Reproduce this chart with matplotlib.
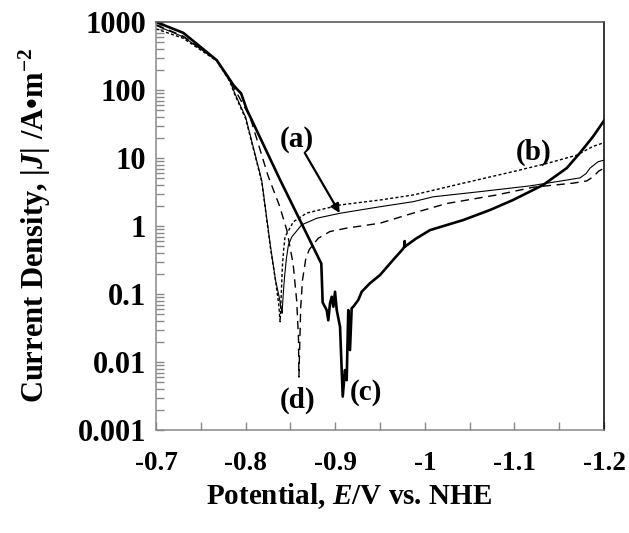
import numpy as np
import matplotlib
matplotlib.use("Agg")
import matplotlib.pyplot as plt
from matplotlib.ticker import FixedLocator, FuncFormatter, LogLocator, NullFormatter

plt.rcParams['font.family'] = ['Liberation Serif', 'DejaVu Serif']
plt.rcParams['font.weight'] = 'bold'
plt.rcParams['mathtext.fontset'] = 'custom'
plt.rcParams['mathtext.rm'] = 'Liberation Serif:bold'
plt.rcParams['mathtext.it'] = 'Liberation Serif:italic:bold'
plt.rcParams['mathtext.bf'] = 'Liberation Serif:bold'

# (a) thin solid
E_a = [-0.700, -0.7305, -0.7677, -0.7826, -0.788, -0.800, -0.818, -0.8278, -0.8334,
       -0.8375, -0.8407, -0.8410, -0.8420, -0.8435, -0.8455, -0.8477, -0.8515, -0.8626,
       -0.8794, -0.9054, -0.950, -0.9872, -1.0095, -1.0616, -1.1174, -1.1584, -1.1732,
       -1.1800, -1.1844, -1.1933, -1.200]
J_a = [891, 603, 275, 135, 89, 40, 4.7, 0.50, 0.16,
       0.09, 0.052, 0.06, 0.10, 0.18, 0.33, 0.52, 0.69, 1.04,
       1.30, 1.54, 1.92, 2.28, 2.69, 3.20, 3.89, 4.74, 5.1,
       5.9, 7.1, 8.8, 9.3]

# (b) dotted
E_b = [-0.700, -0.7305, -0.7677, -0.7826, -0.788, -0.800, -0.818, -0.8278, -0.834,
       -0.8370, -0.8385, -0.8395, -0.8410, -0.8425, -0.844, -0.8532, -0.8682, -0.9054,
       -0.950, -0.9872, -1.043, -1.0984, -1.136, -1.1695, -1.1877, -1.200]
J_b = [794, 575, 269, 132, 85, 38, 4.5, 0.47, 0.14,
       0.07, 0.039, 0.08, 0.25, 0.45, 0.69, 1.15, 1.55, 2.04,
       2.41, 2.86, 4.27, 6.3, 8.3, 11.0, 14.8, 16.8]

# (c) thick solid
E_c = [-0.700, -0.7305, -0.7677, -0.7826, -0.786, -0.7919, -0.795, -0.8012, -0.8384,
       -0.8845, -0.8860, -0.8905, -0.8923, -0.8942, -0.8961, -0.8979, -0.8998, -0.9017,
       -0.9054, -0.9084, -0.9109, -0.9128, -0.9146, -0.9165, -0.9184, -0.9202, -0.9258,
       -0.9296, -0.9388, -0.950, -0.9649, -0.975, -0.977, -0.9775, -0.978, -0.990,
       -1.0058, -1.0426, -1.0728, -1.0984, -1.1319, -1.1584, -1.1732, -1.1877, -1.200]
J_c = [1000, 692, 275, 141, 120, 98, 89, 52, 4.8,
       0.28, 0.075, 0.058, 0.041, 0.073, 0.091, 0.065, 0.108, 0.058,
       0.033, 0.0031, 0.0076, 0.0054, 0.058, 0.015, 0.062, 0.065, 0.082,
       0.108, 0.144, 0.19, 0.32, 0.45, 0.49, 0.60, 0.50, 0.65,
       0.87, 1.22, 1.72, 2.41, 4.0, 7.1, 11.9, 20.6, 35.3]

# (d) dashed
E_d = [-0.700, -0.7305, -0.7677, -0.7826, -0.790, -0.805, -0.825, -0.838, -0.846,
       -0.853, -0.857, -0.859, -0.8595, -0.8605, -0.8615, -0.8635, -0.867, -0.871,
       -0.8811, -0.8942, -0.9128, -0.950, -0.9872, -1.0244, -1.0802, -1.1211, -1.1657,
       -1.1807, -1.1880, -1.1940, -1.200]
J_d = [912, 617, 275, 141, 91, 40, 5.5, 1.95, 0.87,
       0.28, 0.08, 0.023, 0.006, 0.02, 0.063, 0.16, 0.32, 0.45,
       0.66, 0.83, 0.93, 1.10, 1.55, 2.14, 2.86, 3.72, 4.27,
       4.6, 5.3, 6.4, 7.1]

x_ticks = [-0.7, -0.8, -0.9, -1.0, -1.1, -1.2]
y_ticks = [0.001, 0.01, 0.1, 1, 10, 100, 1000]

fig = plt.figure(figsize=(6.29, 5.33), dpi=100)
ax = fig.add_axes([156 / 629, 1 - 430 / 533, 448 / 629, 408 / 533])

ax.plot(E_a, J_a, color='black', lw=0.8, solid_joinstyle='round')
ax.plot(E_b, J_b, color='black', lw=1.0, linestyle=(0, (2.2, 1.6)))
ax.plot(E_c, J_c, color='black', lw=1.9, solid_joinstyle='round')
ax.plot(E_d, J_d, color='black', lw=1.0, linestyle=(0, (6, 4)))

ax.set_yscale('log')
ax.set_xlim(-0.7, -1.2)
ax.set_ylim(0.001, 1000)

ax.xaxis.set_major_locator(FixedLocator(x_ticks))
ax.xaxis.set_minor_locator(FixedLocator(np.arange(-0.75, -1.2, -0.1)))
ax.xaxis.set_major_formatter(FuncFormatter(lambda v, p: '%g' % round(v, 2)))
ax.yaxis.set_major_locator(FixedLocator(y_ticks))
ax.yaxis.set_minor_locator(LogLocator(base=10, subs=np.arange(2, 10), numticks=20))
ax.yaxis.set_minor_formatter(NullFormatter())
ax.yaxis.set_major_formatter(FuncFormatter(lambda v, p: '%g' % v))

gray = '#888888'
ax.tick_params(axis='both', which='both', direction='in', length=6, width=1, color=gray)
ax.tick_params(axis='x', which='major', pad=15, labelsize=19.5)
ax.tick_params(axis='y', which='major', pad=7, labelsize=22)
for lab in ax.get_xticklabels() + ax.get_yticklabels():
    lab.set_fontweight('bold')

ax.spines['left'].set_color(gray)
ax.spines['bottom'].set_color(gray)
ax.spines['top'].set_color('#4d4d4d')
ax.spines['right'].set_color('black')
for s in ax.spines.values():
    s.set_linewidth(1.1)

ax.set_xlabel('Potential, $\\it{E}$/V vs. NHE', fontsize=21, fontweight='bold', labelpad=4,
              x=0.43)
ax.set_ylabel('Current Density, |$\\it{J}$| /A\u2022m$^{-2}$', fontsize=22, fontweight='bold',
              labelpad=18)

# curve labels
lab_kw = dict(fontsize=21, fontweight='bold', ha='center', va='center')
ax.text(-0.857, 18.4, '(a)', **lab_kw)
ax.text(-1.122, 12.2, '(b)', **lab_kw)
ax.text(-0.934, 0.0036, '(c)', **lab_kw)
ax.text(-0.858, 0.0027, '(d)', **lab_kw)
ax.annotate('', xy=(-0.905, 1.55), xytext=(-0.866, 11.9),
            arrowprops=dict(arrowstyle='-|>', color='black', lw=1.6, mutation_scale=13,
                            shrinkA=0, shrinkB=0))

fig.savefig('out.png', dpi=100)
